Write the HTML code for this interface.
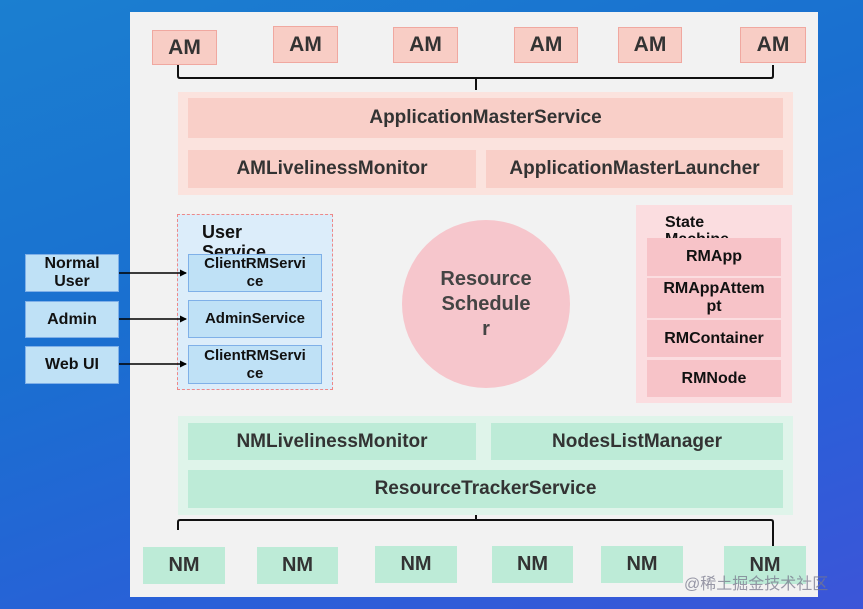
<!DOCTYPE html>
<html><head><style>
body{margin:0;width:863px;height:609px;overflow:hidden;position:relative;background:linear-gradient(160deg,#1b7fd0 0%,#1a6fd0 40%,#2a5fd8 75%,#3c55d8 100%);font-family:"Liberation Sans","Noto Sans CJK SC",sans-serif;font-weight:bold;}
.a{position:absolute;box-sizing:border-box;display:flex;align-items:center;justify-content:center;text-align:center;color:#333;}
.am{background:#f8cdc5;border:1px solid #f0a8a0;font-size:21px;}
.pk{background:#f9cfc8;font-size:19px;}
.gr{background:#bdebd7;font-size:19px;}
.bl{background:#bfe1f6;border:1px solid #7fb0e8;font-size:15px;color:#111;line-height:18px;}
.rm{background:#f7c3c8;font-size:16px;color:#111;line-height:18px;}
</style></head><body>
<div class="a" style="left:130px;top:12px;width:688px;height:585px;background:#f2f2f2"></div>
<div class="a am" style="left:152px;top:30px;width:65px;height:35px">AM</div>
<div class="a am" style="left:273px;top:26px;width:65px;height:37px">AM</div>
<div class="a am" style="left:393px;top:27px;width:65px;height:36px">AM</div>
<div class="a am" style="left:514px;top:27px;width:64px;height:36px">AM</div>
<div class="a am" style="left:618px;top:27px;width:64px;height:36px">AM</div>
<div class="a am" style="left:740px;top:27px;width:66px;height:36px">AM</div>
<div class="a" style="left:178px;top:92px;width:615px;height:103px;background:#fbe3de"></div>
<div class="a pk" style="left:188px;top:98px;width:595px;height:40px">ApplicationMasterService</div>
<div class="a pk" style="left:188px;top:150px;width:288px;height:38px">AMLivelinessMonitor</div>
<div class="a pk" style="left:486px;top:150px;width:297px;height:38px">ApplicationMasterLauncher</div>
<div class="a" style="left:177px;top:214px;width:156px;height:176px;background:#dcedfa;border:1px dashed #e88;"></div>
<div style="position:absolute;left:202px;top:222px;font-size:18px;line-height:20px;color:#111;width:80px">User Service</div>
<div class="a bl" style="left:188px;top:254px;width:134px;height:38px">ClientRMServi<br>ce</div>
<div class="a bl" style="left:188px;top:300px;width:134px;height:38px">AdminService</div>
<div class="a bl" style="left:188px;top:345px;width:134px;height:39px">ClientRMServi<br>ce</div>
<div class="a bl" style="left:25px;top:254px;width:94px;height:38px;font-size:16px">Normal<br>User</div>
<div class="a bl" style="left:25px;top:301px;width:94px;height:37px;font-size:16px">Admin</div>
<div class="a bl" style="left:25px;top:346px;width:94px;height:38px;font-size:16px">Web UI</div>
<div class="a" style="left:402px;top:220px;width:168px;height:168px;border-radius:50%;background:#f6c6cc;font-size:20px;color:#444;line-height:25px">Resource<br>Schedule<br>r</div>
<div class="a" style="left:636px;top:205px;width:156px;height:198px;background:#fbdde0"></div>
<div style="position:absolute;left:665px;top:214px;font-size:16px;line-height:17px;color:#111;height:24px;overflow:hidden">State<br>Machine</div>
<div class="a rm" style="left:647px;top:238px;width:134px;height:38px">RMApp</div>
<div class="a rm" style="left:647px;top:278px;width:134px;height:40px">RMAppAttem<br>pt</div>
<div class="a rm" style="left:647px;top:320px;width:134px;height:37px">RMContainer</div>
<div class="a rm" style="left:647px;top:360px;width:134px;height:37px">RMNode</div>
<div class="a" style="left:178px;top:416px;width:615px;height:99px;background:#dff4ea"></div>
<div class="a gr" style="left:188px;top:423px;width:288px;height:37px">NMLivelinessMonitor</div>
<div class="a gr" style="left:491px;top:423px;width:292px;height:37px">NodesListManager</div>
<div class="a gr" style="left:188px;top:470px;width:595px;height:38px">ResourceTrackerService</div>
<div class="a gr" style="left:143px;top:547px;width:82px;height:37px;font-size:20px">NM</div>
<div class="a gr" style="left:257px;top:547px;width:81px;height:37px;font-size:20px">NM</div>
<div class="a gr" style="left:375px;top:546px;width:82px;height:37px;font-size:20px">NM</div>
<div class="a gr" style="left:492px;top:546px;width:81px;height:37px;font-size:20px">NM</div>
<div class="a gr" style="left:601px;top:546px;width:82px;height:37px;font-size:20px">NM</div>
<div class="a gr" style="left:724px;top:546px;width:82px;height:38px;font-size:20px">NM</div>
<svg style="position:absolute;left:0;top:0" width="863" height="609">
<defs><marker id="ar" markerWidth="7" markerHeight="7" refX="6" refY="3.5" orient="auto" markerUnits="userSpaceOnUse"><path d="M0,0L7,3.5L0,7z" fill="#000"/></marker></defs>
<path d="M178,65 V76 Q178,78 180,78 H771 Q773,78 773,76 V65 M476,78 V90" stroke="#111" stroke-width="2" fill="none"/>
<path d="M178,530 V522 Q178,520 180,520 H771 Q773,520 773,522 V546 M476,520 V515" stroke="#111" stroke-width="2" fill="none"/>
<line x1="119" y1="273" x2="186" y2="273" stroke="#000" stroke-width="1.5" marker-end="url(#ar)"/>
<line x1="119" y1="319" x2="186" y2="319" stroke="#000" stroke-width="1.5" marker-end="url(#ar)"/>
<line x1="119" y1="364" x2="186" y2="364" stroke="#000" stroke-width="1.5" marker-end="url(#ar)"/>
</svg>
<div style="position:absolute;left:684px;top:570px;font-size:16px;font-weight:normal;color:rgba(120,120,140,0.75)">@稀土掘金技术社区</div>
</body></html>
